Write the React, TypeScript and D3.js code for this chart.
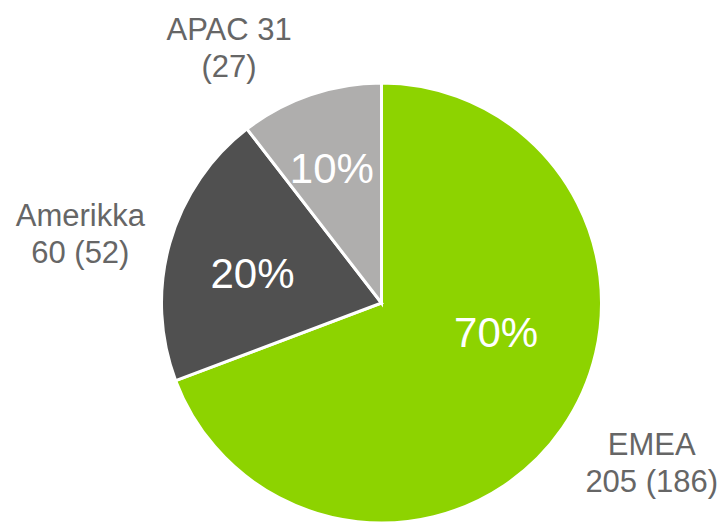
import React, { useEffect, useRef } from 'react';
import * as d3 from 'd3';

// regions and their values (previous year in brackets)
const regions = ['EMEA', 'Amerikka', 'APAC'];
const values = [205, 60, 31];
const previous = [186, 52, 27];
const shares = ['70%', '20%', '10%'];
const colors = ['#8DD300', '#505050', '#AFAEAD'];

// label placement tweaks (Excel style "best fit" positions)
const inNudge = [[6, -46], [-2, 6], [-7, -10]];
const outNudge = [[35, -4], [-26, 8], [-60, 15]];

const W = 723;
const H = 522;

function App() {
  const ref = useRef<SVGSVGElement>(null);

  useEffect(() => {
    const svg = d3.select(ref.current);
    svg.selectAll('*').remove();

    const cx = 381.5;
    const cy = 303;
    const R = 220;

    const pie = d3.pie<number>().sort(null).value(d => d);
    const arcs = pie(values);

    const arc = d3.arc<d3.PieArcDatum<number>>().innerRadius(0).outerRadius(R);
    const inArc = d3.arc<d3.PieArcDatum<number>>().innerRadius(R * 0.6).outerRadius(R * 0.6);
    const outArc = d3.arc<d3.PieArcDatum<number>>().innerRadius(R * 1.3).outerRadius(R * 1.3);

    const g = svg.append('g').attr('transform', `translate(${cx},${cy})`);

    g.selectAll('path')
      .data(arcs)
      .enter()
      .append('path')
      .attr('d', arc)
      .attr('fill', (d, i) => colors[i])
      .attr('stroke', '#fff')
      .attr('stroke-width', 3)
      .attr('stroke-linejoin', 'miter');

    // percentages inside the slices
    g.selectAll('text.pct')
      .data(arcs)
      .enter()
      .append('text')
      .attr('class', 'pct')
      .attr('x', (d, i) => inArc.centroid(d)[0] + inNudge[i][0])
      .attr('y', (d, i) => inArc.centroid(d)[1] + inNudge[i][1] + 15)
      .attr('text-anchor', 'middle')
      .attr('fill', '#fff')
      .style('font-family', '"Liberation Sans", Arial, sans-serif')
      .style('font-size', '42px')
      .text((d, i) => shares[i]);

    // region labels outside
    const lbl = g.selectAll('g.lbl')
      .data(arcs)
      .enter()
      .append('g')
      .attr('class', 'lbl')
      .attr('transform', (d, i) => {
        const [x, y] = outArc.centroid(d);
        return `translate(${x + outNudge[i][0]},${y + outNudge[i][1]})`;
      })
      .style('font-family', '"Liberation Sans", Arial, sans-serif')
      .style('font-size', '31px')
      .attr('fill', '#666666')
      .attr('text-anchor', 'middle');

    lbl.append('text')
      .attr('y', -7)
      .text((d, i) => (regions[i] === 'APAC' ? `${regions[i]} ${values[i]}` : regions[i]));

    lbl.append('text')
      .attr('y', 30)
      .text((d, i) => (regions[i] === 'APAC' ? `(${previous[i]})` : `${values[i]} (${previous[i]})`));
  }, []);

  return (
    <svg
      ref={ref}
      width={W}
      height={H}
      style={{ position: 'absolute', left: 0, top: 0, background: '#fff' }}
    />
  );
}

export default App;
